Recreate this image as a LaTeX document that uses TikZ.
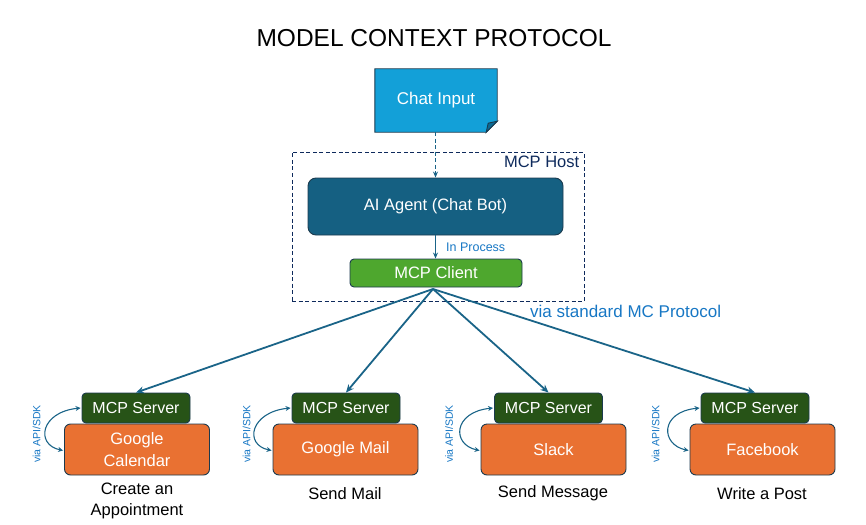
\documentclass[tikz,border=0pt]{standalone}
\usepackage{fontspec}
\setmainfont{Liberation Sans}
\usetikzlibrary{arrows.meta}
\definecolor{cinput}{HTML}{13A0D8}
\definecolor{cinputdark}{HTML}{0B6A94}
\definecolor{cborder}{HTML}{1B3A4E}
\definecolor{cagent}{HTML}{156082}
\definecolor{cclient}{HTML}{4EA72E}
\definecolor{cserver}{HTML}{275317}
\definecolor{corange}{HTML}{E97132}
\definecolor{carrow}{HTML}{1A6488}
\definecolor{clabel}{HTML}{1777C4}
\definecolor{chost}{HTML}{0E2A5C}
\tikzset{
  boxbase/.style={draw=cborder, line width=0.9pt, text=white, align=center, inner sep=0pt},
  agentbox/.style={boxbase, fill=cagent, rounded corners=8pt, minimum width=255pt, minimum height=57pt, font=\fontsize{16.5}{19}\selectfont},
  clientbox/.style={boxbase, fill=cclient, rounded corners=4pt, minimum width=172pt, minimum height=28pt, font=\fontsize{16.5}{19}\selectfont},
  serverbox/.style={boxbase, fill=cserver, rounded corners=4pt, minimum width=108pt, minimum height=30pt, font=\fontsize{16}{19}\selectfont},
  appbox/.style={boxbase, fill=corange, rounded corners=6pt, minimum width=145pt, minimum height=51pt, font=\fontsize{16.5}{22}\selectfont},
  hostbox/.style={draw=chost, dash pattern=on 4pt off 2.5pt, line width=0.9pt, minimum width=292pt, minimum height=149pt, inner sep=0pt},
  caption/.style={font=\fontsize{16.5}{21}\selectfont, align=center, text=black},
  bluelabel/.style={text=clabel, inner sep=0pt},
  mainarrow/.style={draw=carrow, line width=1.8pt, -{Stealth[length=8pt,width=7pt]}},
  apiarrow/.style={draw=carrow, line width=1.1pt, {Stealth[length=5pt,width=5pt]}-{Stealth[length=5pt,width=5pt]}},
}
\begin{document}
\begin{tikzpicture}[x=1pt,y=-1pt]
\useasboundingbox (0,0) rectangle (866,524);

% title
\node[font=\fontsize{24.5}{28}\selectfont] (title) at (434,38) {MODEL CONTEXT PROTOCOL};

% chat input (note with folded corner)
\node[minimum width=122pt, minimum height=63pt, inner sep=0pt] (chat) at (436,100.5) {};
\fill[cinput, draw=cborder, line width=0.9pt]
  (chat.north west) -- (chat.north east) -- ([yshift=11pt]chat.south east)
  -- ([xshift=-11pt]chat.south east) -- (chat.south west) -- cycle;
\fill[cinputdark, draw=cborder, line width=0.9pt]
  ([xshift=-11pt]chat.south east) -- ([xshift=-9pt,yshift=9pt]chat.south east)
  -- ([yshift=11pt]chat.south east) -- cycle;
\node[text=white, font=\fontsize{17}{20}\selectfont] (chatlabel) at (chat.center) {Chat Input};

% host
\node[hostbox] (host) at (438,226.5) {};
\node[text=chost, font=\fontsize{16.5}{19}\selectfont, anchor=north east, inner sep=0pt] (hostlabel) at ([xshift=-5pt,yshift=-4pt]host.north east) {MCP Host};

\node[agentbox] (agent) at (435.5,206.5) {AI Agent (Chat Bot)};
\node[clientbox] (client) at (436,273) {MCP Client};

\draw[draw=carrow, line width=0.9pt, dash pattern=on 4pt off 2.5pt, -{Stealth[length=6pt,width=5pt]}] (chat.south -| agent.north) -- (agent.north);
\draw[draw=carrow, line width=1.1pt, -{Stealth[length=6pt,width=5pt]}] (agent.south) -- (client.north -| agent.south);
\node[bluelabel, font=\fontsize{12.5}{15}\selectfont, anchor=west] (inproc) at (446,247) {In Process};

% servers and apps
\node[serverbox] (s1) at (136,408) {MCP Server};
\node[serverbox] (s2) at (346,408) {MCP Server};
\node[serverbox] (s3) at (548.5,408) {MCP Server};
\node[serverbox] (s4) at (755,408) {MCP Server};

\node[appbox] (a1) at (137,449.5) {Google\\Calendar};
\node[appbox] (a2) at (345.5,449.5) {Google Mail};
\node[appbox] (a3) at (553.5,449.5) {Slack};
\node[appbox] (a4) at (762.5,449.5) {Facebook};

\node[caption] (c1) at (137,500.5) {Create an\\Appointment};
\node[caption] (c2) at (345,494) {Send Mail};
\node[caption] (c3) at (553,493) {Send Message};
\node[caption] (c4) at (762,494) {Write a Post};

% main arrows
\coordinate (hub) at (433,289);
\foreach \s in {s1,s2,s3,s4} {
  \draw[mainarrow] (hub) -- (\s.north);
}
\node[bluelabel, font=\fontsize{17}{20}\selectfont, anchor=west] (proto) at (530,311) {via standard MC Protocol};

% api arrows
\foreach \s/\a in {s1/a1,s2/a2,s3/a3,s4/a4} {
  \draw[apiarrow] ([xshift=-1pt]\s.west) .. controls +(-40,4) and +(-28,-6) .. ([xshift=-1pt,yshift=-1pt]\a.west);
  \node[bluelabel, rotate=90, font=\fontsize{10.5}{12}\selectfont] at ([xshift=-45pt]\s.west |- 0,434) {via API/SDK};
}
\end{tikzpicture}
\end{document}
